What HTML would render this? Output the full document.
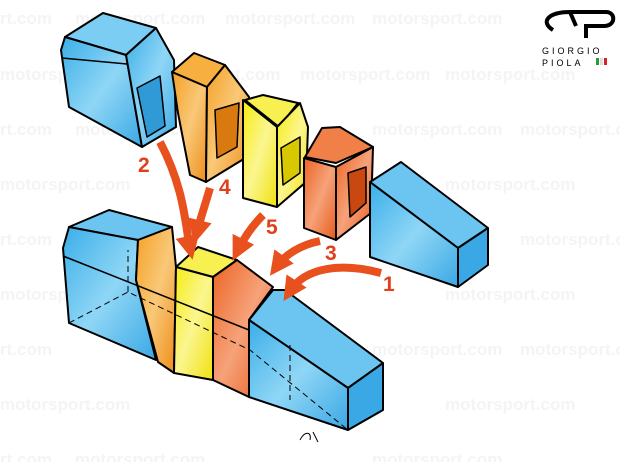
<!DOCTYPE html>
<html><head><meta charset="utf-8"><style>
html,body{margin:0;padding:0;background:#fff;}
svg{display:block;}
.wm{font-family:"Liberation Sans",sans-serif;font-weight:bold;font-size:17px;fill:#f4f4f4;}
.lbl{font-family:"Liberation Sans",sans-serif;font-weight:bold;font-size:21px;fill:#e0401c;}
</style></head><body>
<svg width="620" height="462" viewBox="0 0 620 462" xmlns="http://www.w3.org/2000/svg">
<defs>
<linearGradient id="bl" x1="0" y1="0" x2="1" y2="1"><stop offset="0" stop-color="#3aaee8"/><stop offset="0.5" stop-color="#8fd6f6"/><stop offset="1" stop-color="#3aa8e4"/></linearGradient>
<linearGradient id="or" x1="0" y1="0" x2="1" y2="1"><stop offset="0" stop-color="#f5a025"/><stop offset="0.5" stop-color="#f9c878"/><stop offset="1" stop-color="#ee8c18"/></linearGradient>
<linearGradient id="ye" x1="0" y1="0" x2="1" y2="1"><stop offset="0" stop-color="#f6ec10"/><stop offset="0.5" stop-color="#fbf690"/><stop offset="1" stop-color="#f0e010"/></linearGradient>
<linearGradient id="rd" x1="0" y1="0" x2="1" y2="1"><stop offset="0" stop-color="#ec6424"/><stop offset="0.5" stop-color="#f6a27a"/><stop offset="1" stop-color="#e65a1c"/></linearGradient>
<marker id="ah" viewBox="0 0 10 10" refX="5" refY="5" markerWidth="3" markerHeight="3" orient="auto"><path d="M0,0 L10,5 L0,10 z" fill="#e8501e"/></marker>
</defs>
<g class="wm">
<text x="0" y="24">rt.com</text><text x="75" y="24">motorsport.com</text><text x="225" y="24">motorsport.com</text><text x="372" y="24">motorsport.com</text>
<text x="0" y="80">motorsport.com</text><text x="150" y="80">motorsport.com</text><text x="300" y="80">motorsport.com</text><text x="445" y="80">motorsport.com</text>
<text x="0" y="135">rt.com</text><text x="75" y="135">motorsport.com</text><text x="372" y="135">motorsport.com</text><text x="520" y="135">motorsport.c</text>
<text x="0" y="190">motorsport.com</text><text x="445" y="190">motorsport.com</text>
<text x="0" y="245">rt.com</text><text x="520" y="245">motorsport.c</text>
<text x="0" y="300">motorsport.com</text><text x="445" y="300">motorsport.com</text>
<text x="0" y="355">rt.com</text><text x="372" y="355">motorsport.com</text><text x="520" y="355">motorsport.c</text>
<text x="0" y="410">motorsport.com</text><text x="445" y="410">motorsport.com</text>
<text x="0" y="465">rt.com</text><text x="75" y="465">motorsport.com</text><text x="372" y="465">motorsport.com</text>
</g>
<g stroke="#000" stroke-width="2" stroke-linejoin="round">
<polygon points="65,37 103,13 156,28 126,55" fill="#7ccdf3"/>
<polygon points="61,50 65,37 126,55 142,147 69,107" fill="url(#bl)"/>
<polygon points="126,55 156,28 174,60 176,127 142,147" fill="url(#bl)"/>
<polygon points="137,88 160,76 165,126 147,137" fill="#2f9ad6" stroke-width="1.5"/>
<line x1="62" y1="58" x2="127" y2="64" stroke-width="1.5"/>
<polygon points="172,72 194,53 225,65 207,87" fill="#f7b040"/>
<polygon points="172,72 207,87 206,182 190,175 178,113" fill="url(#or)"/>
<polygon points="207,87 225,65 249,97 247,157 206,182" fill="url(#or)"/>
<polygon points="215,110 239,103 237,147 217,158" fill="#d97a10" stroke-width="1.5"/>
<polygon points="245,100 263,95 298,103 279,127" fill="#f8f050"/>
<polygon points="243,100 277,127 277,207 243,198" fill="url(#ye)"/>
<polygon points="277,127 300,103 308,127 306,182 277,207" fill="url(#ye)"/>
<polygon points="281,148 300,137 300,173 283,185" fill="#d8c800" stroke-width="1.5"/>
<polygon points="305,157 322,128 340,127 373,147 336,163" fill="#f08048"/>
<polygon points="304,158 336,167 336,240 304,228" fill="url(#rd)"/>
<polygon points="336,167 373,147 371,213 336,240" fill="url(#rd)"/>
<polygon points="348,173 366,167 366,203 350,217" fill="#c84810" stroke-width="1.5"/>
<polygon points="370,182 401,162 488,228 458,248" fill="#6cc4f0"/>
<polygon points="370,182 458,248 458,287 370,257" fill="url(#bl)"/>
<polygon points="458,248 488,228 488,265 458,287" fill="#3aa8e4"/>
<polygon points="69,227 109,210 172,227 138,240" fill="#6cc4f0"/>
<polygon points="63,248 69,227 138,240 136,280 156,360 69,323" fill="url(#bl)"/>
<polygon points="138,240 172,227 176,267 174,373 158,362 136,280" fill="url(#or)"/>
<polygon points="176,267 198,247 237,260 213,277" fill="#f8f050"/>
<polygon points="176,267 213,277 213,380 174,373" fill="url(#ye)"/>
<polygon points="213,277 237,260 273,287 249,320 249,397 213,380" fill="url(#rd)"/>
<polygon points="249,320 273,290 285,290 383,363 348,388" fill="#6cc4f0"/>
<polygon points="249,320 348,388 348,430 249,397" fill="url(#bl)"/>
<polygon points="348,388 383,363 383,410 348,430" fill="#3aa8e4"/>
<line x1="63" y1="256" x2="249" y2="330" stroke-width="1.5"/>
</g>
<g stroke="#000" stroke-width="1" stroke-dasharray="6,4" fill="none">
<path d="M69,323 L128,292 L250,350 L348,430"/>
<path d="M128,292 L128,250"/>
<path d="M290,345 L290,400"/>
</g>
<g fill="none" stroke="#e8501e" stroke-width="8" marker-end="url(#ah)">
<path d="M160,142 C185,190 185,225 190,248"/>
<path d="M210,188 C205,205 200,220 197,232"/>
<path d="M263,215 C250,228 243,240 238,250"/>
<path d="M320,241 C300,245 285,255 277,266"/>
<path d="M381,273 C340,262 305,268 290,291"/>
</g>
<text class="lbl" x="138" y="172">2</text>
<text class="lbl" x="219" y="194">4</text>
<text class="lbl" x="266" y="234">5</text>
<text class="lbl" x="325" y="260">3</text>
<text class="lbl" x="383" y="291">1</text>
<path d="M553,30 C540,22 548,12 570,12 L606,12 C616,12 616,26 604,26 L586,26 L586,38 M570,12 L576,26" fill="none" stroke="#000" stroke-width="4"/>
<text x="542" y="54" font-family="Liberation Sans,sans-serif" font-size="9" letter-spacing="3">GIORGIO</text>
<text x="542" y="66" font-family="Liberation Sans,sans-serif" font-size="9" letter-spacing="3">PIOLA</text>
<rect x="596" y="58" width="3" height="7" fill="#2a9a3a"/><rect x="600" y="58" width="3" height="7" fill="#ddd"/><rect x="604" y="58" width="3" height="7" fill="#e02020"/>
<path d="M300,440 C305,430 312,432 310,440 M313,432 L318,442" stroke="#000" fill="none" stroke-width="1"/>
</svg>
</body></html>
